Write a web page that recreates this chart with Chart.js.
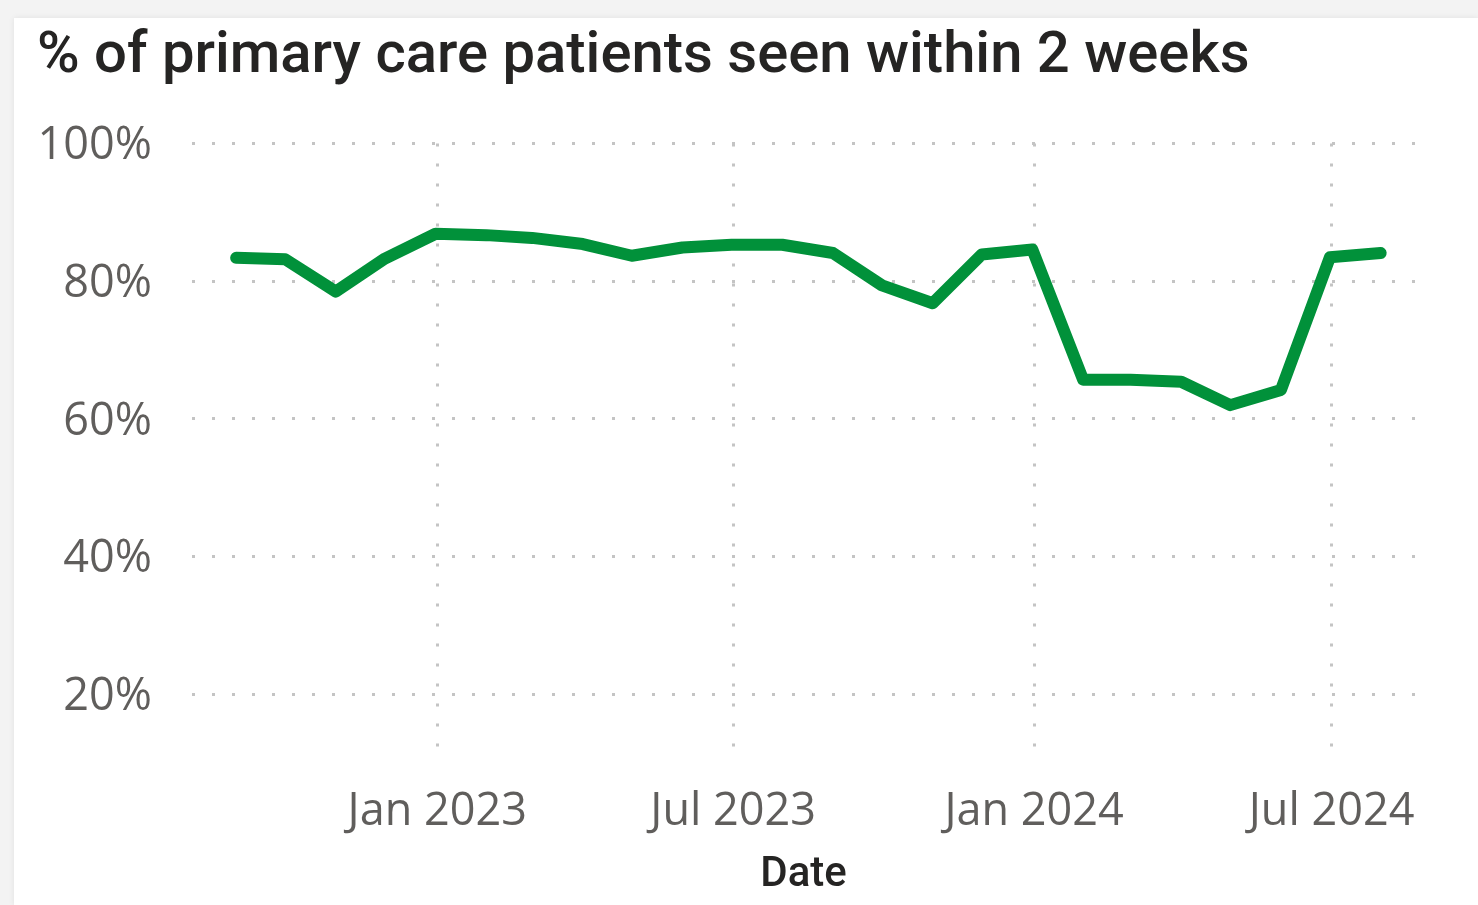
<!DOCTYPE html>
<html>
<head>
<meta charset="utf-8">
<title>% of primary care patients seen within 2 weeks</title>
<script src="https://cdn.jsdelivr.net/npm/chart.js@4.4.1/dist/chart.umd.min.js"></script>
<style>
    html, body { margin: 0; padding: 0; }
    body { width: 1478px; height: 905px; background: #f3f3f3; overflow: hidden; position: relative; }
    #card {
        position: absolute; left: 14px; top: 18px; width: 1464px; height: 887px;
        background: #fff; box-shadow: 0 0 6px rgba(0, 0, 0, 0.08);
    }
</style>
</head>
<body>
<div id="card"><canvas id="chart"></canvas></div>
<script>
// one point per month (month end)
const monthEnds = ['2022-08-31', '2022-09-30', '2022-10-31', '2022-11-30', '2022-12-31',
    '2023-01-31', '2023-02-28', '2023-03-31', '2023-04-30', '2023-05-31', '2023-06-30',
    '2023-07-31', '2023-08-31', '2023-09-30', '2023-10-31', '2023-11-30', '2023-12-31',
    '2024-01-31', '2024-02-29', '2024-03-31', '2024-04-30', '2024-05-31', '2024-06-30',
    '2024-07-31'];

const pctSeen = [83.4, 83.2, 78.5, 83.3, 86.9, 86.7, 86.3, 85.4, 83.7, 84.9, 85.3, 85.3,
    84.1, 79.4, 76.8, 83.9, 84.6, 65.7, 65.7, 65.4, 62.0, 64.2, 83.5, 84.1];

const xTickDates = ['2023-01-01', '2023-07-01', '2024-01-01', '2024-07-01'];
const xTickLabels = ['Jan 2023', 'Jul 2023', 'Jan 2024', 'Jul 2024'];
const yTickValues = [20, 40, 60, 80, 100];

const dayMs = 86400000;
const toDay = (s) => Date.parse(s) / dayMs;

const gridColor = '#c4c4c4';
const tickColor = '#605e5c';
const titleColor = '#252423';
const tickFont = { family: '"Open Sans", sans-serif', size: 45 };

const ctx = document.getElementById('chart');

const config = {
    type: 'line',
    data: {
        datasets: [{
            label: '% seen within 2 weeks',
            data: monthEnds.map((d, i) => ({ x: toDay(d), y: pctSeen[i] })),
            borderColor: '#01913a',
            backgroundColor: '#01913a',
            borderWidth: 12,
            borderCapStyle: 'round',
            borderJoinStyle: 'round',
            pointRadius: 0,
            tension: 0
        }]
    },
    options: {
        responsive: true,
        maintainAspectRatio: false,
        animation: false,
        layout: {
            padding: { left: 23, right: 63, top: 0, bottom: 0 }
        },
        plugins: {
            legend: { display: false },
            tooltip: { enabled: false },
            title: {
                display: true,
                text: '% of primary care patients seen within 2 weeks',
                align: 'start',
                color: titleColor,
                font: { family: 'Roboto, sans-serif', size: 58, weight: '500' },
                padding: { top: 5, bottom: 51 }
            }
        },
        scales: {
            x: {
                type: 'linear',
                min: toDay('2022-08-04'),
                max: toDay('2024-08-21'),
                afterBuildTicks: (axis) => {
                    axis.ticks = xTickDates.map(d => ({ value: toDay(d) }));
                },
                afterFit: (axis) => { axis.height = 142; },
                ticks: {
                    color: tickColor,
                    font: tickFont,
                    padding: 22,
                    maxRotation: 0,
                    autoSkip: false,
                    callback: (value, index) => xTickLabels[index]
                },
                grid: {
                    color: gridColor,
                    lineWidth: 3,
                    drawTicks: false
                },
                border: { display: false, dash: [3, 17] },
                title: {
                    display: true,
                    text: 'Date',
                    color: titleColor,
                    font: { family: 'Roboto, sans-serif', size: 42, weight: '500' },
                    padding: { top: 0, bottom: 4 }
                }
            },
            y: {
                min: 10,
                max: 100,
                afterBuildTicks: (axis) => {
                    axis.ticks = yTickValues.map(v => ({ value: v }));
                },
                afterFit: (axis) => { axis.width = 155; },
                ticks: {
                    color: tickColor,
                    font: tickFont,
                    padding: 40,
                    labelOffset: 3,
                    callback: (value) => value + '%'
                },
                grid: {
                    color: gridColor,
                    lineWidth: 3,
                    drawTicks: false
                },
                border: { display: false, dash: [3, 17] }
            }
        }
    }
};

const myChart = new Chart(ctx, config);
</script>
</body>
</html>
